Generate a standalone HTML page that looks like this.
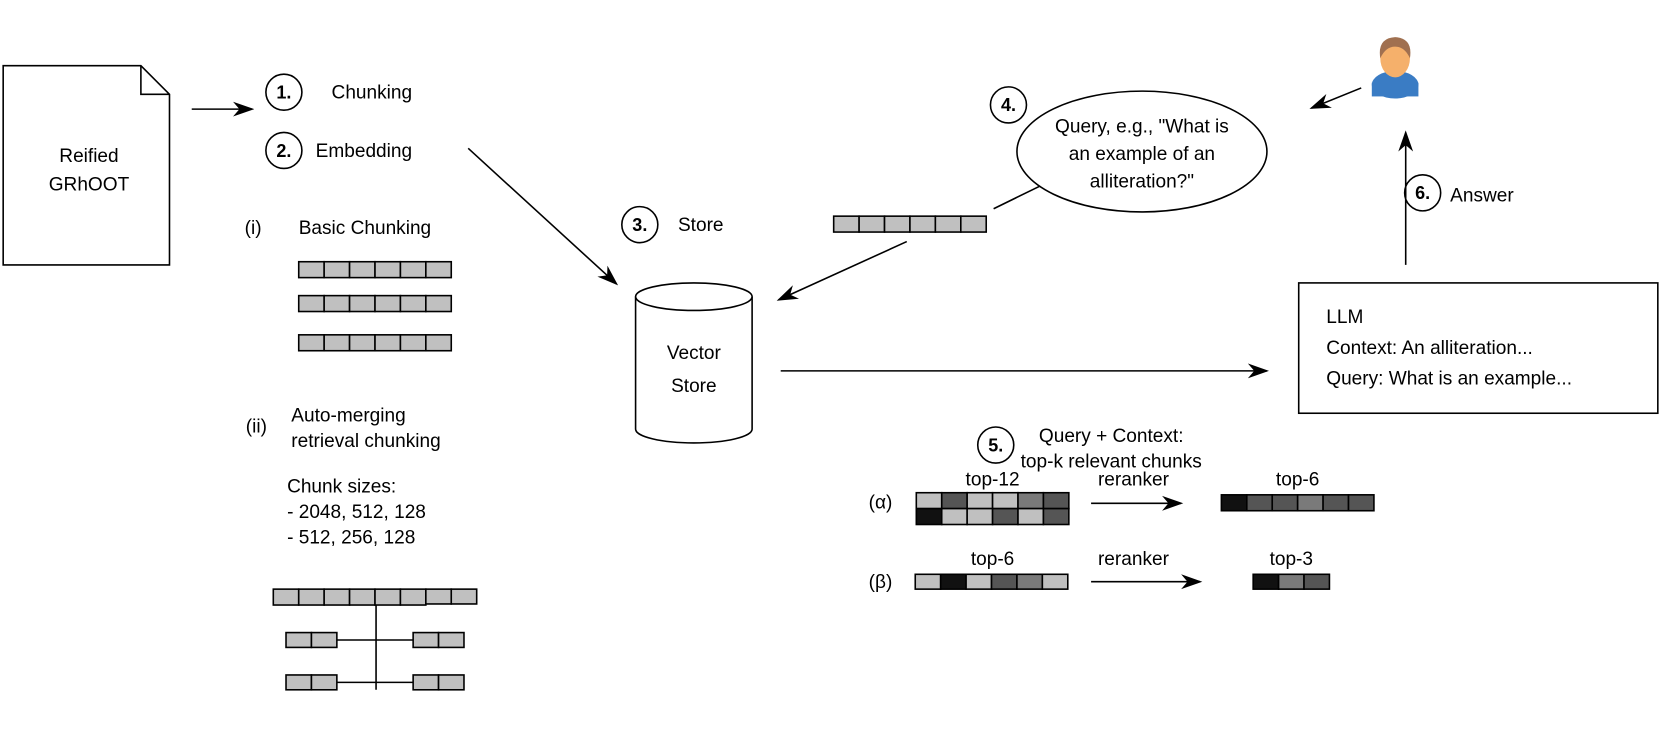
<html><body style="margin:0;background:#fff">
<svg width="1661" height="729" viewBox="0 0 1568 688" preserveAspectRatio="none" xmlns="http://www.w3.org/2000/svg" font-family="Liberation Sans, Arial, sans-serif" font-size="18">
<defs>
<marker id="b" viewBox="0 0 20 20" markerWidth="20" markerHeight="20" refX="18" refY="10" orient="auto" markerUnits="userSpaceOnUse"><path d="M0,3 L20,10 L0,17 L6,10z" fill="#000"/></marker></defs>
<g stroke="#000" stroke-width="1.5" fill="none">
<path d="M3,62 H133 L160,89 V250 H3Z" fill="#fff"/><path d="M133,62 V89 H160"/>
<line x1="181" y1="103" x2="238" y2="103" marker-end="url(#b)"/>
<line x1="442" y1="140" x2="582" y2="268" marker-end="url(#b)"/>
<line x1="856" y1="228" x2="735" y2="283" marker-end="url(#b)"/>
<line x1="938" y1="197" x2="983" y2="175"/>
<line x1="737" y1="350" x2="1196" y2="350" marker-end="url(#b)"/>
<line x1="1327" y1="250" x2="1327" y2="125" marker-end="url(#b)"/>
<line x1="1285" y1="83" x2="1238" y2="102" marker-end="url(#b)"/>
<line x1="1030" y1="475" x2="1115" y2="475" marker-end="url(#b)"/>
<line x1="1030" y1="549" x2="1133" y2="549" marker-end="url(#b)"/>
<ellipse cx="1078" cy="143" rx="118" ry="57" fill="#fff"/>
<rect x="1226" y="267" width="339" height="123" fill="#fff"/>
<path d="M600,280 V405 A55,13 0 0 0 710,405 V280" fill="#fff"/><ellipse cx="655" cy="280" rx="55" ry="13" fill="#fff"/>
<circle cx="268" cy="87" r="17"/><circle cx="268" cy="142" r="17"/><circle cx="604" cy="212" r="17"/>
<circle cx="952" cy="99" r="17"/><circle cx="940" cy="420" r="17"/><circle cx="1343" cy="182" r="17"/>
<path d="M355,570 V651 M318,604 H390 M318,644 H390"/>
</g>
<g stroke="#000" stroke-width="1.5" fill="#c0c0c0">
<g id="r6"><rect x="282" y="247" width="24" height="15"/><rect x="306" y="247" width="24" height="15"/><rect x="330" y="247" width="24" height="15"/><rect x="354" y="247" width="24" height="15"/><rect x="378" y="247" width="24" height="15"/><rect x="402" y="247" width="24" height="15"/></g>
<use href="#r6" y="32"/><use href="#r6" y="69"/><use href="#r6" x="505" y="-43"/>
<use href="#r6" x="-24" y="309"/><rect x="402" y="556" width="24" height="14"/><rect x="426" y="556" width="24" height="14"/>
<rect x="270" y="597" width="24" height="14"/><rect x="294" y="597" width="24" height="14"/><rect x="390" y="597" width="24" height="14"/><rect x="414" y="597" width="24" height="14"/>
<rect x="270" y="637" width="24" height="14"/><rect x="294" y="637" width="24" height="14"/><rect x="390" y="637" width="24" height="14"/><rect x="414" y="637" width="24" height="14"/>
<rect x="865" y="465" width="24" height="15"/><rect x="889" y="465" width="24" height="15" fill="#555"/><rect x="913" y="465" width="24" height="15"/><rect x="937" y="465" width="24" height="15"/><rect x="961" y="465" width="24" height="15" fill="#7a7a7a"/><rect x="985" y="465" width="24" height="15" fill="#555"/>
<rect x="865" y="480" width="24" height="15" fill="#111"/><rect x="889" y="480" width="24" height="15"/><rect x="913" y="480" width="24" height="15"/><rect x="937" y="480" width="24" height="15" fill="#555"/><rect x="961" y="480" width="24" height="15"/><rect x="985" y="480" width="24" height="15" fill="#555"/>
<rect x="1153" y="467" width="24" height="15" fill="#111"/><rect x="1177" y="467" width="24" height="15" fill="#555"/><rect x="1201" y="467" width="24" height="15" fill="#555"/><rect x="1225" y="467" width="24" height="15" fill="#7a7a7a"/><rect x="1249" y="467" width="24" height="15" fill="#555"/><rect x="1273" y="467" width="24" height="15" fill="#555"/>
<rect x="864" y="542" width="24" height="14"/><rect x="888" y="542" width="24" height="14" fill="#111"/><rect x="912" y="542" width="24" height="14"/><rect x="936" y="542" width="24" height="14" fill="#555"/><rect x="960" y="542" width="24" height="14" fill="#7a7a7a"/><rect x="984" y="542" width="24" height="14"/>
<rect x="1183" y="542" width="24" height="14" fill="#111"/><rect x="1207" y="542" width="24" height="14" fill="#7a7a7a"/><rect x="1231" y="542" width="24" height="14" fill="#555"/>
</g>
<g>
<ellipse cx="1317" cy="80" rx="22" ry="13" fill="#3a7cc4"/><rect x="1295" y="78" width="44" height="13" fill="#3a7cc4"/>
<ellipse cx="1317" cy="55" rx="14" ry="18" fill="#f5b06b"/><path d="M1303,55 Q1300,36 1317,35 Q1334,36 1331,55 Q1326,44 1317,44 Q1308,44 1303,55z" fill="#a07050"/>
</g>
<g fill="#000" text-anchor="middle">
<text x="84" y="153">Reified</text><text x="84" y="180">GRhOOT</text>
<g font-weight="bold" font-size="17"><text x="268" y="93">1.</text><text x="268" y="148">2.</text><text x="604" y="218">3.</text><text x="952" y="105">4.</text><text x="940" y="426">5.</text><text x="1343" y="188">6.</text></g>
<text x="655" y="339">Vector</text><text x="655" y="370">Store</text>
<text x="1078" y="125">Query, e.g., "What is</text><text x="1078" y="151">an example of an</text><text x="1078" y="177">alliteration?"</text>
<text x="1049" y="417">Query + Context:</text><text x="1049" y="441">top-k relevant chunks</text>
<text x="937" y="458">top-12</text><text x="1070" y="458">reranker</text><text x="1225" y="458">top-6</text>
<text x="937" y="533">top-6</text><text x="1070" y="533">reranker</text><text x="1219" y="533">top-3</text>
</g>
<g fill="#000">
<text x="313" y="93">Chunking</text><text x="298" y="148">Embedding</text><text x="640" y="218">Store</text><text x="1369" y="190">Answer</text>
<text x="231" y="221">(i)</text><text x="282" y="221">Basic Chunking</text>
<text x="232" y="408">(ii)</text><text x="275" y="398">Auto-merging</text><text x="275" y="422">retrieval chunking</text>
<text x="271" y="465">Chunk sizes:</text><text x="271" y="489">- 2048, 512, 128</text><text x="271" y="513">- 512, 256, 128</text>
<text x="1252" y="305">LLM</text><text x="1252" y="334">Context: An alliteration...</text><text x="1252" y="363">Query: What is an example...</text>
<text x="820" y="480">(α)</text><text x="820" y="555">(β)</text>
</g>
</svg>
</body></html>
